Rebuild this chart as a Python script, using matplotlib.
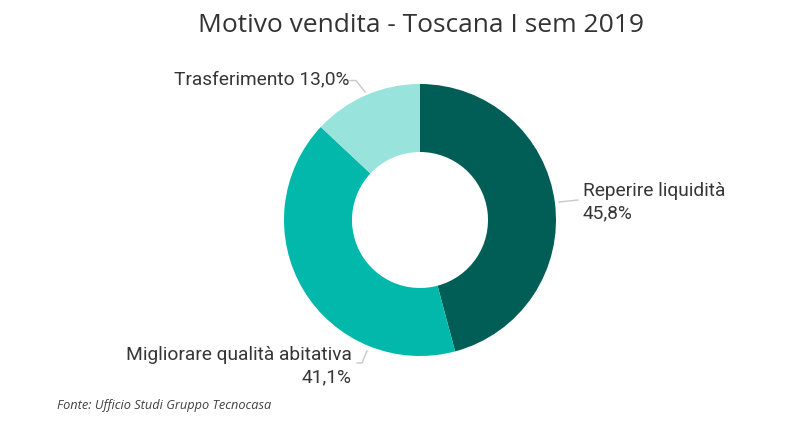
import numpy as np
import matplotlib
matplotlib.use("Agg")
import matplotlib.pyplot as plt

# ---- data ----
categories = ["Reperire liquidità", "Migliorare qualità abitativa", "Trasferimento"]
values = [45.8, 41.1, 13.0]
value_labels = ["45,8%", "41,1%", "13,0%"]
colors = ["#015E56", "#01B8AA", "#98E3DC"]
title = "Motivo vendita - Toscana I sem 2019"
source = "Fonte: Ufficio Studi Gruppo Tecnocasa"

W, H = 800, 430
fig = plt.figure(figsize=(W / 100, H / 100), dpi=100)
ax = fig.add_axes([0, 0, 1, 1])

cx, cy = 420, H - 220
R = 136
wedges, _ = ax.pie(values, colors=colors, startangle=90, counterclock=False,
                   radius=R, center=(cx, cy),
                   wedgeprops=dict(width=68, linewidth=0), frame=True)
ax.set_xlim(0, W)
ax.set_ylim(0, H)
ax.set_aspect("equal")
ax.axis("off")

txt_col = "#363636"
line_col = "#c8c8c8"
lab_font = dict(family="Roboto", fontsize=13.8, color=txt_col)

def Y(p):
    return H - p

# Reperire liquidità (right)
ax.plot([559, 578], [Y(202), Y(200)], color=line_col, lw=1)
ax.text(583, Y(191), categories[0], ha="left", va="center", **lab_font)
ax.text(583, Y(213), value_labels[0], ha="left", va="center", **lab_font)

# Migliorare (bottom-left)
ax.plot([357, 362, 367], [Y(363), Y(363), Y(351)], color=line_col, lw=1)
ax.text(352, Y(355), categories[1], ha="right", va="center", **lab_font)
ax.text(352, Y(377), value_labels[1], ha="right", va="center", **lab_font)

# Trasferimento (top-left)
ax.plot([350, 356, 365], [Y(80.5), Y(80.5), Y(92)], color=line_col, lw=1)
ax.text(349, Y(79), f"{categories[2]} {value_labels[2]}", ha="right", va="center", **lab_font)

ax.text(421, Y(25), title, ha="center", va="center", family="Open Sans",
        fontsize=19, color="#333333")
ax.text(57, Y(405), source, ha="left", va="center", family="Open Sans",
        fontsize=9.2, style="italic", color="#404040")

fig.savefig("out.png", dpi=100, facecolor="white")
